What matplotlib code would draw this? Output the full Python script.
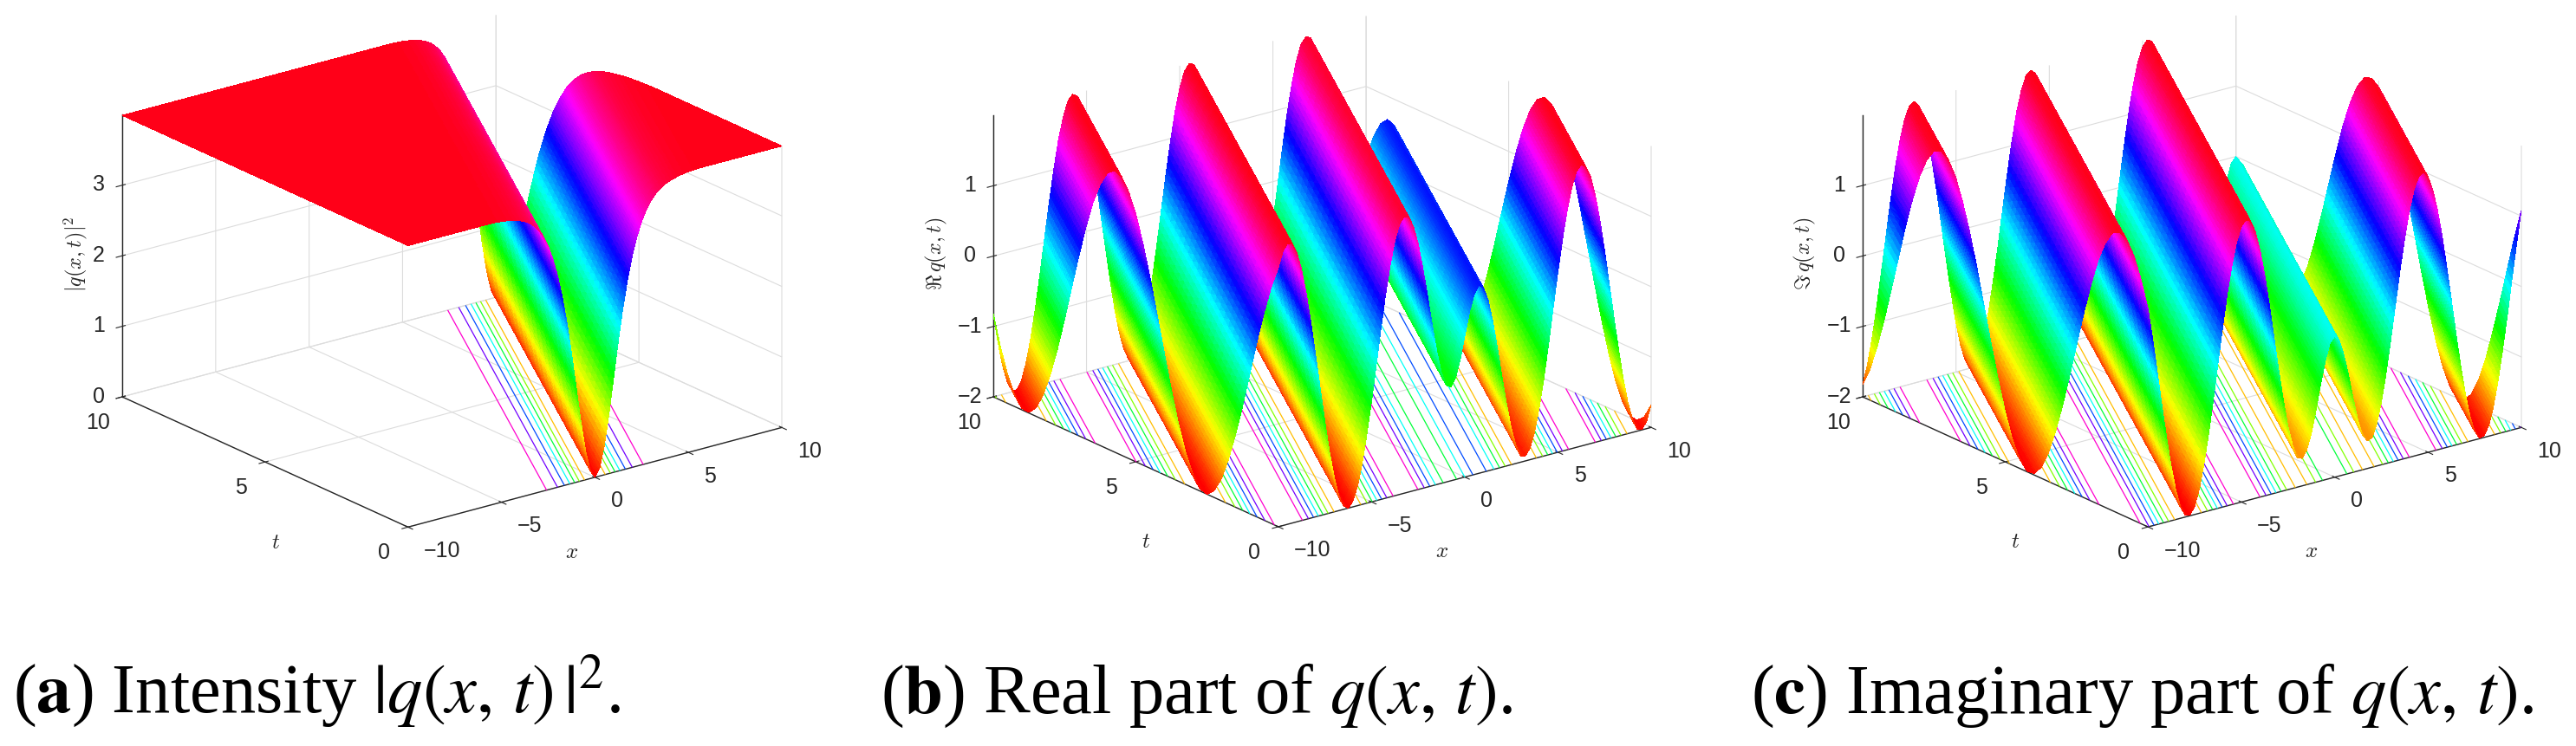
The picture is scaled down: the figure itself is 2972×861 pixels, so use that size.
import numpy as np
import matplotlib
matplotlib.use("Agg")
import matplotlib.pyplot as plt
from matplotlib.colors import Normalize
from mpl_toolkits.mplot3d import proj3d
from matplotlib.tri import Triangulation

plt.rcParams['font.family'] = ['Liberation Sans', 'DejaVu Sans']
plt.rcParams['mathtext.fontset'] = 'cm'
plt.rcParams['axes3d.grid'] = True
plt.rcParams['grid.color'] = '#dcdcdc'
plt.rcParams['grid.linewidth'] = 0.8

# ---- values: the three surfaces are ridged along lines
# x - t = const, so each is one profile over xi = x - t, knots every 0.25
XI_START, XI_STEP = -20.0, 0.25

intensity = [3.99] * 59 + [
    3.985, 3.98, 3.97, 3.96, 3.94, 3.92, 3.89, 3.85, 3.79, 3.71, 3.60, 3.45, 3.25, 3.00,
    2.68, 2.30, 1.84, 1.34, 0.84, 0.41, 0.11, 0.00,
    0.11, 0.41, 0.84, 1.34, 1.84, 2.30, 2.68, 3.00, 3.25, 3.45, 3.60, 3.71, 3.79, 3.85,
    3.89, 3.92, 3.94, 3.96, 3.97, 3.98, 3.985] + [3.99] * 19

real_part = [
    -0.82, -1.24, -1.59, -1.84, -1.98, -1.99, -1.88, -1.65, -1.32, -0.91, -0.44, 0.06,
    0.55, 1.01, 1.41, 1.71, 1.92, 2.00, 1.96, 1.79, 1.52, 1.15, 0.71, 0.22, -0.27, -0.75,
    -1.19, -1.55, -1.81, -1.97, -2.00, -1.90, -1.69, -1.37, -0.97, -0.51, -0.01, 0.49,
    0.95, 1.36, 1.68, 1.90, 1.99, 1.97, 1.82, 1.56, 1.20, 0.77, 0.29, -0.20, -0.69, -1.14,
    -1.51, -1.79, -1.95, -2.00, -1.92, -1.72, -1.41, -1.02, -0.57, -0.08, 0.42, 0.89,
    1.29, 1.62, 1.84, 1.93, 1.91, 1.75, 1.49, 1.13, 0.72, 0.29, -0.11, -0.43, -0.62,
    -0.67, -0.56, -0.32, 0.00,
    0.32, 0.56, 0.67, 0.62, 0.43, 0.11, -0.29, -0.72, -1.13, -1.49, -1.75, -1.91, -1.93,
    -1.84, -1.62, -1.29, -0.89, -0.42, 0.08, 0.57, 1.02, 1.41, 1.72, 1.92, 2.00, 1.95,
    1.79, 1.51, 1.14, 0.69, 0.20, -0.29, -0.77, -1.20, -1.56, -1.82, -1.97, -1.99, -1.90,
    -1.68]

imag_part = [
    -1.83, -1.57, -1.21, -0.78, -0.30, 0.19, 0.69, 1.13, 1.50, 1.78, 1.95, 2.00, 1.92,
    1.73, 1.42, 1.03, 0.58, 0.08, -0.41, -0.88, -1.30, -1.64, -1.87, -1.99, -1.98, -1.85,
    -1.61, -1.26, -0.84, -0.37, 0.13, 0.62, 1.07, 1.46, 1.75, 1.94, 2.00, 1.94, 1.76,
    1.47, 1.09, 0.64, 0.15, -0.35, -0.82, -1.25, -1.60, -1.85, -1.98, -1.99, -1.88, -1.65,
    -1.31, -0.90, -0.43, 0.07, 0.56, 1.02, 1.41, 1.71, 1.91, 1.99, 1.95, 1.78, 1.50, 1.13,
    0.69, 0.21, -0.27, -0.72, -1.11, -1.40, -1.58, -1.61, -1.51, -1.29, -0.97, -0.62,
    -0.31, -0.08, 0.00,
    -0.08, -0.31, -0.62, -0.97, -1.29, -1.51, -1.61, -1.58, -1.40, -1.11, -0.72, -0.27,
    0.21, 0.69, 1.13, 1.50, 1.78, 1.95, 1.99, 1.91, 1.71, 1.41, 1.02, 0.56, 0.07, -0.43,
    -0.90, -1.31, -1.65, -1.88, -1.99, -1.98, -1.85, -1.60, -1.25, -0.82, -0.35, 0.15,
    0.64, 1.09]

x_limits = [-10, 10]
t_limits = [0, 10]
x_ticks = [-10, -5, 0, 5, 10]
t_ticks = [0, 5, 10]
x_ticklabels = ['\u221210', '\u22125', '0', '5', '10']
t_ticklabels = ['0', '5', '10']
z_limits_a = [0, 4]
z_ticks_a = [0, 1, 2, 3]
z_ticklabels_a = ['0', '1', '2', '3']
z_limits_bc = [-2, 2]
z_ticks_bc = [-2, -1, 0, 1]
z_ticklabels_bc = ['\u22122', '\u22121', '0', '1']
levels_a = [0.5, 1, 1.5, 2, 2.5, 3, 3.5]
levels_bc = [-1.5, -1, -0.5, 0, 0.5, 1, 1.5]
z_label_a = r'$|q(x,t)|^2$'
z_label_b = r'$\Re\,q(x,t)$'
z_label_c = r'$\Im\,q(x,t)$'
caption_a = r'($\mathbf{a}$) Intensity $|q(x,\,t)\,|^2$.'
caption_b = r'($\mathbf{b}$) Real part of $q(x,\,t)$.'
caption_c = r'($\mathbf{c}$) Imaginary part of $q(x,\,t)$.'

W, H = 2972, 862
fig = plt.figure(figsize=(W / 100, H / 100), dpi=100, facecolor='white')


def surface_mesh(profile):
    """Facets of the tabulated profile. Every facet between two knots is cut
    along its own plane (SHADE sub-strips) only so the colour can ramp across it,
    as MATLAB's 'shading interp' does; no values are added to the tables."""
    SHADE = 5
    prof = np.asarray(profile)
    knots = XI_START + XI_STEP * np.arange(len(prof))
    xs, ts, zs, tris = [], [], [], []
    fine = np.linspace(knots[0], knots[-1], (len(prof) - 1) * SHADE + 1)
    zfine = np.interp(fine, knots, prof)
    rows = 21
    frac = np.linspace(0, 1, rows)
    for xi, z in zip(fine, zfine):
        t0 = max(0.0, -10 - xi)
        t1 = min(10.0, 10 - xi)
        t = t0 + (t1 - t0) * frac
        xs.append(xi + t)
        ts.append(t)
        zs.append(np.full(rows, z))
    xs, ts, zs = np.concatenate(xs), np.concatenate(ts), np.concatenate(zs)
    for i in range(len(fine) - 1):
        for j in range(rows - 1):
            a = i * rows + j
            b = a + rows
            tris.append((a, b, a + 1))
            tris.append((b, b + 1, a + 1))
    return xs, ts, zs, np.array(tris)


def contour_grid(profile):
    prof = np.asarray(profile)
    xg = np.arange(x_limits[0], x_limits[1] + 1e-9, XI_STEP)
    tg = np.arange(t_limits[0], t_limits[1] + 1e-9, XI_STEP)
    X, T = np.meshgrid(xg, tg)
    idx = np.rint((X - T - XI_START) / XI_STEP).astype(int)
    return X, T, prof[idx]


def project(ax, x, t, z):
    a, b, _ = proj3d.proj_transform(x, t, z, ax.get_proj())
    ax.apply_aspect()
    return ax.transData.transform((a, b))


def place(ax, L, R, zlim):
    """Scale and shift the axes box so the floor corners land at the given pixels."""
    side = 900.0
    ax.set_position([0.1, 0.1, side / W, side / H])
    p0 = project(ax, x_limits[0], t_limits[1], zlim[0])
    p1 = project(ax, x_limits[1], t_limits[0], zlim[0])
    side *= (R[0] - L[0]) / (p1[0] - p0[0])
    ax.set_position([0.1, 0.1, side / W, side / H])
    p0 = project(ax, x_limits[0], t_limits[1], zlim[0])
    ax.set_position([0.1 + (L[0] - p0[0]) / W, 0.1 + ((H - L[1]) - p0[1]) / H, side / W, side / H])


def panel(profile, zlim, zticks, zticklabels, levels, zlabel, L, R, xpos, tpos, zpos):
    ax = fig.add_subplot(projection='3d', computed_zorder=False)
    ax.set_proj_type('ortho')
    ax.view_init(elev=20.4, azim=-127.4)
    ax.set_box_aspect((1, 1, 0.64))
    ax.set_xlim(*x_limits, view_margin=0)
    ax.set_ylim(*t_limits, view_margin=0)
    ax.set_zlim(*zlim, view_margin=0)
    ax.patch.set_alpha(0)
    norm = Normalize(*zlim)

    X, T, Z = contour_grid(profile)
    ax.contour(X, T, Z, levels=levels, zdir='z', offset=zlim[0], cmap='hsv', norm=norm,
               linewidths=0.9, zorder=2)
    xs, ts, zs, tris = surface_mesh(profile)
    ax.plot_trisurf(Triangulation(xs, ts, tris), zs, cmap='hsv', norm=norm, shade=False,
                    linewidth=0, antialiased=False, zorder=3)

    ax.set_xticks(x_ticks, x_ticklabels)
    ax.set_yticks(t_ticks, t_ticklabels)
    ax.set_zticks(zticks, zticklabels)
    ax.tick_params(axis='both', labelsize=18, labelcolor='#262626', color='#262626')
    ax.tick_params(axis='x', pad=9)
    ax.tick_params(axis='y', pad=12)
    ax.tick_params(axis='z', pad=3)
    for lab in ax.get_xticklabels():
        lab.set_ha('left')
        lab.set_va('center')
    for lab in ax.get_yticklabels():
        lab.set_ha('center')
        lab.set_va('center')
    for lab in ax.get_zticklabels():
        lab.set_va('center')
    for axis in (ax.xaxis, ax.yaxis, ax.zaxis):
        axis.set_pane_color((1, 1, 1, 0))
        axis.pane.set_edgecolor((1, 1, 1, 0))
        axis.line.set_color('#262626')
        axis.line.set_linewidth(1.0)
    ax.zaxis.set_ticks_position('upper')
    place(ax, L, R, zlim)
    label = dict(transform=fig.transFigure, color='#262626', ha='center', va='center')
    ax.text2D(xpos[0] / W, 1 - xpos[1] / H, r'$x$', fontsize=18, **label)
    ax.text2D(tpos[0] / W, 1 - tpos[1] / H, r'$t$', fontsize=18, **label)
    ax.text2D(zpos[0] / W, 1 - zpos[1] / H, zlabel, fontsize=17.5, rotation=90, **label)
    return ax


panel(intensity, z_limits_a, z_ticks_a, z_ticklabels_a, levels_a, z_label_a, (141, 459), (902, 494),
      (660, 637), (318, 626), (87, 293))
panel(real_part, z_limits_bc, z_ticks_bc, z_ticklabels_bc, levels_bc, z_label_b, (1146, 459), (1905, 494),
      (1664, 636), (1322, 625), (1080, 293))
panel(imag_part, z_limits_bc, z_ticks_bc, z_ticklabels_bc, levels_bc, z_label_c, (2149, 459), (2909, 494),
      (2667, 636), (2325, 625), (2082, 293))

cap_style = dict(family=['Liberation Serif', 'DejaVu Serif'], fontsize=58, color='black', va='baseline',
                 math_fontfamily='stix')
fig.text(15 / W, 1 - 823 / H, caption_a, **cap_style)
fig.text(1016 / W, 1 - 823 / H, caption_b, **cap_style)
fig.text(2020 / W, 1 - 823 / H, caption_c, **cap_style)

fig.savefig('out.png', dpi=100)
